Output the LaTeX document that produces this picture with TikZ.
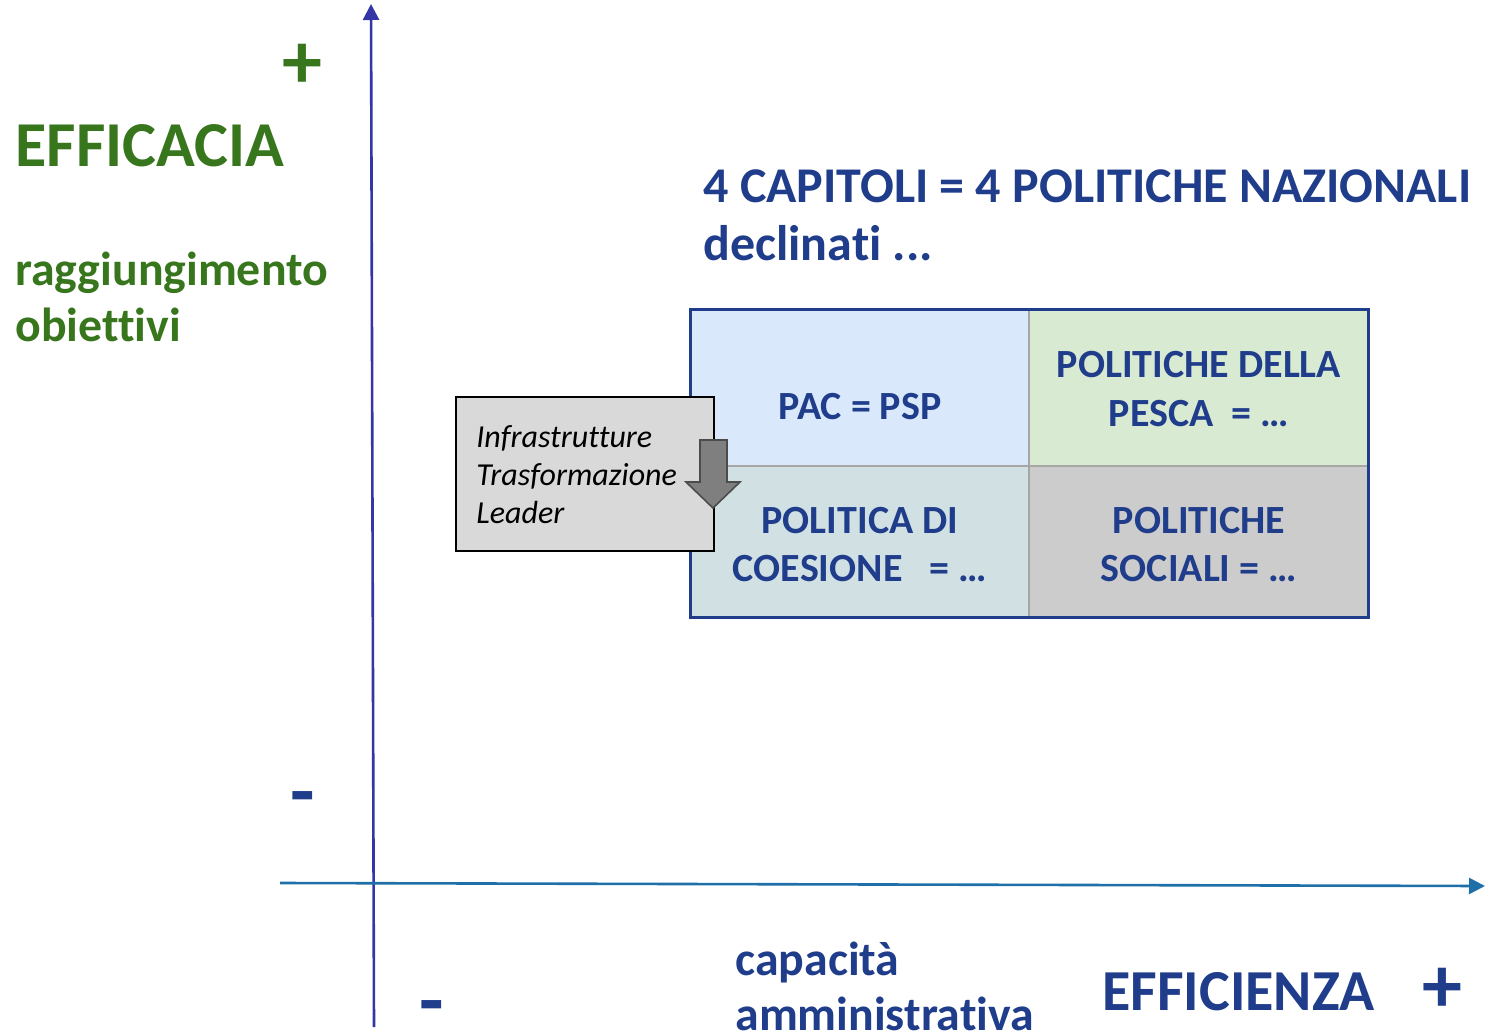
\documentclass[tikz,border=0pt]{standalone}
\usepackage{fontspec}
\setmainfont[Ligatures={NoCommon}]{Carlito}
\usetikzlibrary{arrows.meta}

\definecolor{effgreen}{HTML}{38761D}
\definecolor{effblue}{HTML}{1F3D8A}
\definecolor{axisv}{HTML}{3535A5}
\definecolor{axish}{HTML}{1F6FA8}
\definecolor{cellpac}{HTML}{DAE8FC}
\definecolor{cellpesca}{HTML}{D9EAD3}
\definecolor{cellcoes}{HTML}{D0E0E3}
\definecolor{cellsoc}{HTML}{CCCCCC}
\definecolor{boxgray}{HTML}{D9D9D9}
\definecolor{arrowgray}{HTML}{7F7F7F}

\tikzset{
  lbl/.style={inner sep=0pt, anchor=base west},
  celltxt/.style={inner sep=0pt, anchor=base, text=effblue, font=\bfseries\fontsize{20}{24}\selectfont},
  sign/.style={inner sep=0pt, font=\bfseries\fontsize{40}{40}\selectfont},
  axis/.style={line width=1.3pt, -{Triangle[length=8pt,width=8pt]}}
}

\begin{document}
\begin{tikzpicture}[x=0.5pt, y=-0.5pt]
		\useasboundingbox (0,0) rectangle (1485,1034);

		% Define axes
		\coordinate (ybot) at (374,1027);
		\coordinate (ytop) at (371,4);
		\coordinate (xleft) at (280,883);
		\coordinate (xright) at (1485,886);
		\draw[axis, axisv] (ybot) -- (ytop);
		\draw[axis, axish] (xleft) -- (xright);

		% Axis labels
		\node[sign, text=effgreen] (yplus) at (302,66) {+};
		\node[lbl, text=effgreen, font=\bfseries\fontsize{32}{38}\selectfont] (efficacia) at (15,166) {EFFICACIA};
		\node[lbl, text=effgreen, font=\bfseries\fontsize{23.9}{28}\selectfont] (ragg) at (15,285) {raggiungimento};
		\node[lbl, text=effgreen, font=\bfseries\fontsize{23.9}{28}\selectfont] (obiett) at (15,341) {obiettivi};
		\node[sign, text=effblue] (yminus) at (303,805) {-};
		\node[sign, text=effblue] (xminus) at (432,1014) {-};
		\node[lbl, text=effblue, font=\bfseries\fontsize{23.9}{28}\selectfont] (capac) at (735,975) {capacità};
		\node[lbl, text=effblue, font=\bfseries\fontsize{23.9}{28}\selectfont] (ammin) at (735,1030) {amministrativa};
		\node[lbl, text=effblue, font=\bfseries\fontsize{29}{34}\selectfont] (efficienza) at (1102,1010) {EFFICIENZA};
		\node[sign, text=effblue] (xplus) at (1442,990) {+};

		% Title
		\node[lbl, text=effblue, font=\bfseries\fontsize{25}{30}\selectfont] (titolo) at (703,202) {4 CAPITOLI = 4 POLITICHE NAZIONALI};
		\node[lbl, text=effblue, font=\bfseries\fontsize{25}{30}\selectfont] (declin) at (703,260) {declinati ...};

		% The four chapters
		\fill[cellpac] (690,309) rectangle (1029,466);
		\fill[cellpesca] (1029,309) rectangle (1368,466);
		\fill[cellcoes] (690,466) rectangle (1029,617);
		\fill[cellsoc] (1029,466) rectangle (1368,617);
		\draw[gray!70, line width=1pt] (1029,309) -- (1029,617) (690,466) -- (1368,466);
		\draw[effblue, line width=1.5pt] (690,309) rectangle (1368,617);

		\node[celltxt] (pac) at (860,419) {PAC = PSP};
		\node[celltxt] (pesca1) at (1199,377) {POLITICHE DELLA};
		\node[celltxt] (pesca2) at (1199,426) {PESCA\ \ = …};
		\node[celltxt] (coes1) at (860,533) {POLITICA DI};
		\node[celltxt] (coes2) at (860,581) {COESIONE\ \ \ = …};
		\node[celltxt] (soc1) at (1199,533) {POLITICHE};
		\node[celltxt] (soc2) at (1199,581) {SOCIALI = …};

		% Side box with the down arrow
		\draw[fill=boxgray, line width=1pt] (456,397) rectangle (714,551);
		\node[lbl, font=\itshape\fontsize{16}{19}\selectfont] (infra) at (476,447) {Infrastrutture};
		\node[lbl, font=\itshape\fontsize{16}{19}\selectfont] (trasf) at (476,485) {Trasformazione};
		\node[lbl, font=\itshape\fontsize{16}{19}\selectfont] (leader) at (476,523) {Leader};
		\draw[fill=arrowgray, draw=black!70, line width=0.8pt]
			(700,440) -- (727,440) -- (727,482) -- (740,482) -- (713,508) -- (686,482) -- (700,482) -- cycle;
	\end{tikzpicture}
\end{document}
